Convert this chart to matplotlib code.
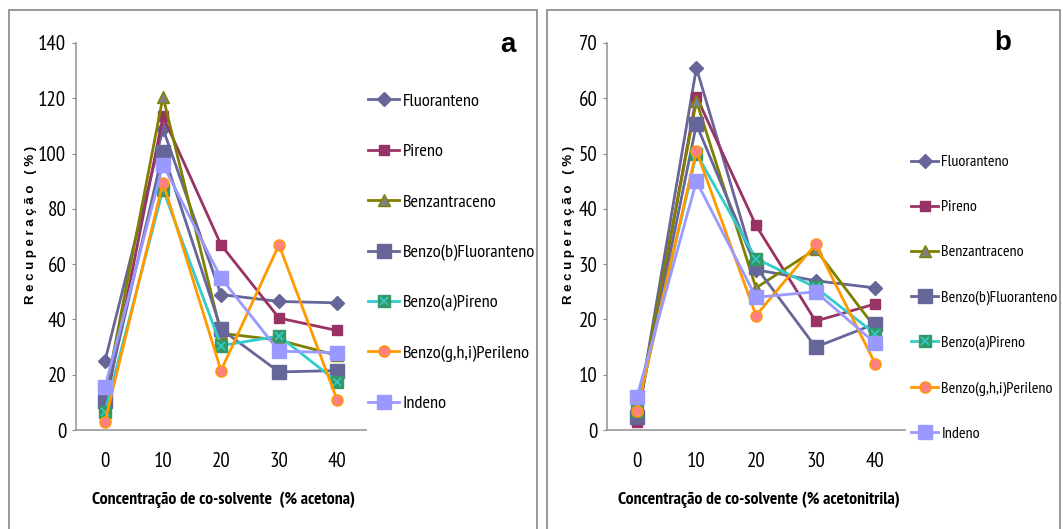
import matplotlib
matplotlib.use("Agg")
import matplotlib.pyplot as plt
from matplotlib.patches import Rectangle
from matplotlib.legend_handler import HandlerTuple

plt.rcParams['font.family'] = ['PT Sans Narrow', 'Liberation Sans', 'DejaVu Sans']

conc = ['0', '10', '20', '30', '40']
nomes = ['Fluoranteno', 'Pireno', 'Benzantraceno', 'Benzo(b)Fluoranteno',
         'Benzo(a)Pireno', 'Benzo(g,h,i)Perileno', 'Indeno']

# (a) acetona
rec_a = [
    [25, 109, 49, 46.5, 46],
    [8, 113.5, 67, 40.5, 36],
    [12, 120.5, 35, 32.5, 27],
    [10.5, 100.5, 36.5, 21, 21.5],
    [6.5, 87, 30.5, 34, 17.5],
    [3, 89.5, 21.5, 67, 11],
    [15.5, 96, 55, 28.5, 28],
]

# (b) acetonitrila
rec_b = [
    [2, 65.5, 29, 27, 25.7],
    [1.5, 60.3, 37, 19.7, 22.8],
    [3, 59.5, 25.7, 32.7, 18.5],
    [2.3, 55.3, 29.5, 15, 19.2],
    [3.5, 50, 31, 25.8, 17.4],
    [3.4, 50.5, 20.7, 33.6, 12],
    [5.9, 45, 24, 25, 15.7],
]

estilos = [
    dict(color='#666699', marker='D', ms=7, mfc='#666699', mec='#666699'),
    dict(color='#993366', marker='s', ms=7, mfc='#993366', mec='#993366'),
    dict(color='#808000', marker='^', ms=8, mfc='#808080', mec='#808000'),
    dict(color='#666699', marker='s', ms=10, mfc='#666699', mec='#666699'),
    dict(color='#33CCCC', marker='s', ms=9, mfc='#339966', mec='#339966'),
    dict(color='#FF9900', marker='o', ms=8, mfc='#FF8080', mec='#FF9900'),
    dict(color='#9999FF', marker='s', ms=10, mfc='#9999FF', mec='#9999FF'),
]

W, H = 1063, 529
fig = plt.figure(figsize=(W / 100, H / 100), dpi=100)

# molduras dos paineis
fig.patches.append(Rectangle((9 / W, -0.01), 528 / W, 1 - 10 / H + 0.01,
                             transform=fig.transFigure, fill=False, ec='#888888', lw=1.2))
fig.patches.append(Rectangle((547 / W, -0.01), 513 / W, 1 - 10 / H + 0.01,
                             transform=fig.transFigure, fill=False, ec='#888888', lw=1.2))

ax_a = fig.add_axes([76 / W, 99 / H, 290 / W, 387 / H])
ax_b = fig.add_axes([607 / W, 99 / H, 298 / W, 387 / H])

paineis = [
    dict(ax=ax_a, dados=rec_a, ymax=140, xlab='Concentração de co-solvente  (% acetona)',
         leg=(368 / W, 1 - 93 / H), legfs=13.2, legsp=1.83, ylx=-0.135),
    dict(ax=ax_b, dados=rec_b, ymax=70, xlab='Concentração de co-solvente (% acetonitrila)',
         leg=(911 / W, 1 - 155 / H), legfs=11.5, legsp=1.93, ylx=-0.107),
]

x = range(len(conc))
for p in paineis:
    ax = p['ax']
    handles = []
    for nome, vals, st in zip(nomes, p['dados'], estilos):
        ln, = ax.plot(x, vals, lw=2, label=nome, clip_on=False, **st)
        if nome == 'Benzo(a)Pireno':
            xm, = ax.plot(x, vals, ls='none', marker='x', ms=6, mew=1.2,
                          color='#33CCCC', clip_on=False)
            handles.append((ln, xm))
        else:
            handles.append(ln)
    ax.set_xlim(-0.5, 4.5)
    ax.set_ylim(0, p['ymax'])
    ax.set_xticks(list(x))
    ax.set_xticklabels(conc)
    ax.tick_params(axis='x', length=0, pad=16, labelsize=15)
    ax.tick_params(axis='y', length=3, direction='out', color='#888888', labelsize=15, pad=4)
    for s in ['top', 'right']:
        ax.spines[s].set_visible(False)
    for s in ['left', 'bottom']:
        ax.spines[s].set_color('#999999')
        ax.spines[s].set_linewidth(1.2)
    ax.set_xlabel(p['xlab'], fontsize=12.7, fontweight='bold')
    ax.xaxis.set_label_coords(0.51, -0.158)
    ax.set_ylabel('R e c u p e r a ç ã o   ( % )', fontsize=9.5, fontweight='bold',
                  family='Liberation Sans')
    ax.yaxis.set_label_coords(p['ylx'], 0.53)
    fig.legend(handles, nomes, loc='upper left', bbox_to_anchor=p['leg'],
               bbox_transform=fig.transFigure, frameon=False, fontsize=p['legfs'],
               labelspacing=p['legsp'], handlelength=1.7, handletextpad=0.2,
               borderaxespad=0, borderpad=0,
               handler_map={tuple: HandlerTuple(ndivide=1, pad=0)})

fig.text(508 / W, 1 - 45 / H, 'a', fontsize=20, fontweight='bold',
         family='Liberation Sans', ha='center', va='center')
fig.text(1003 / W, 1 - 43 / H, 'b', fontsize=20, fontweight='bold',
         family='Liberation Sans', ha='center', va='center')

fig.savefig('out.png', dpi=100)
